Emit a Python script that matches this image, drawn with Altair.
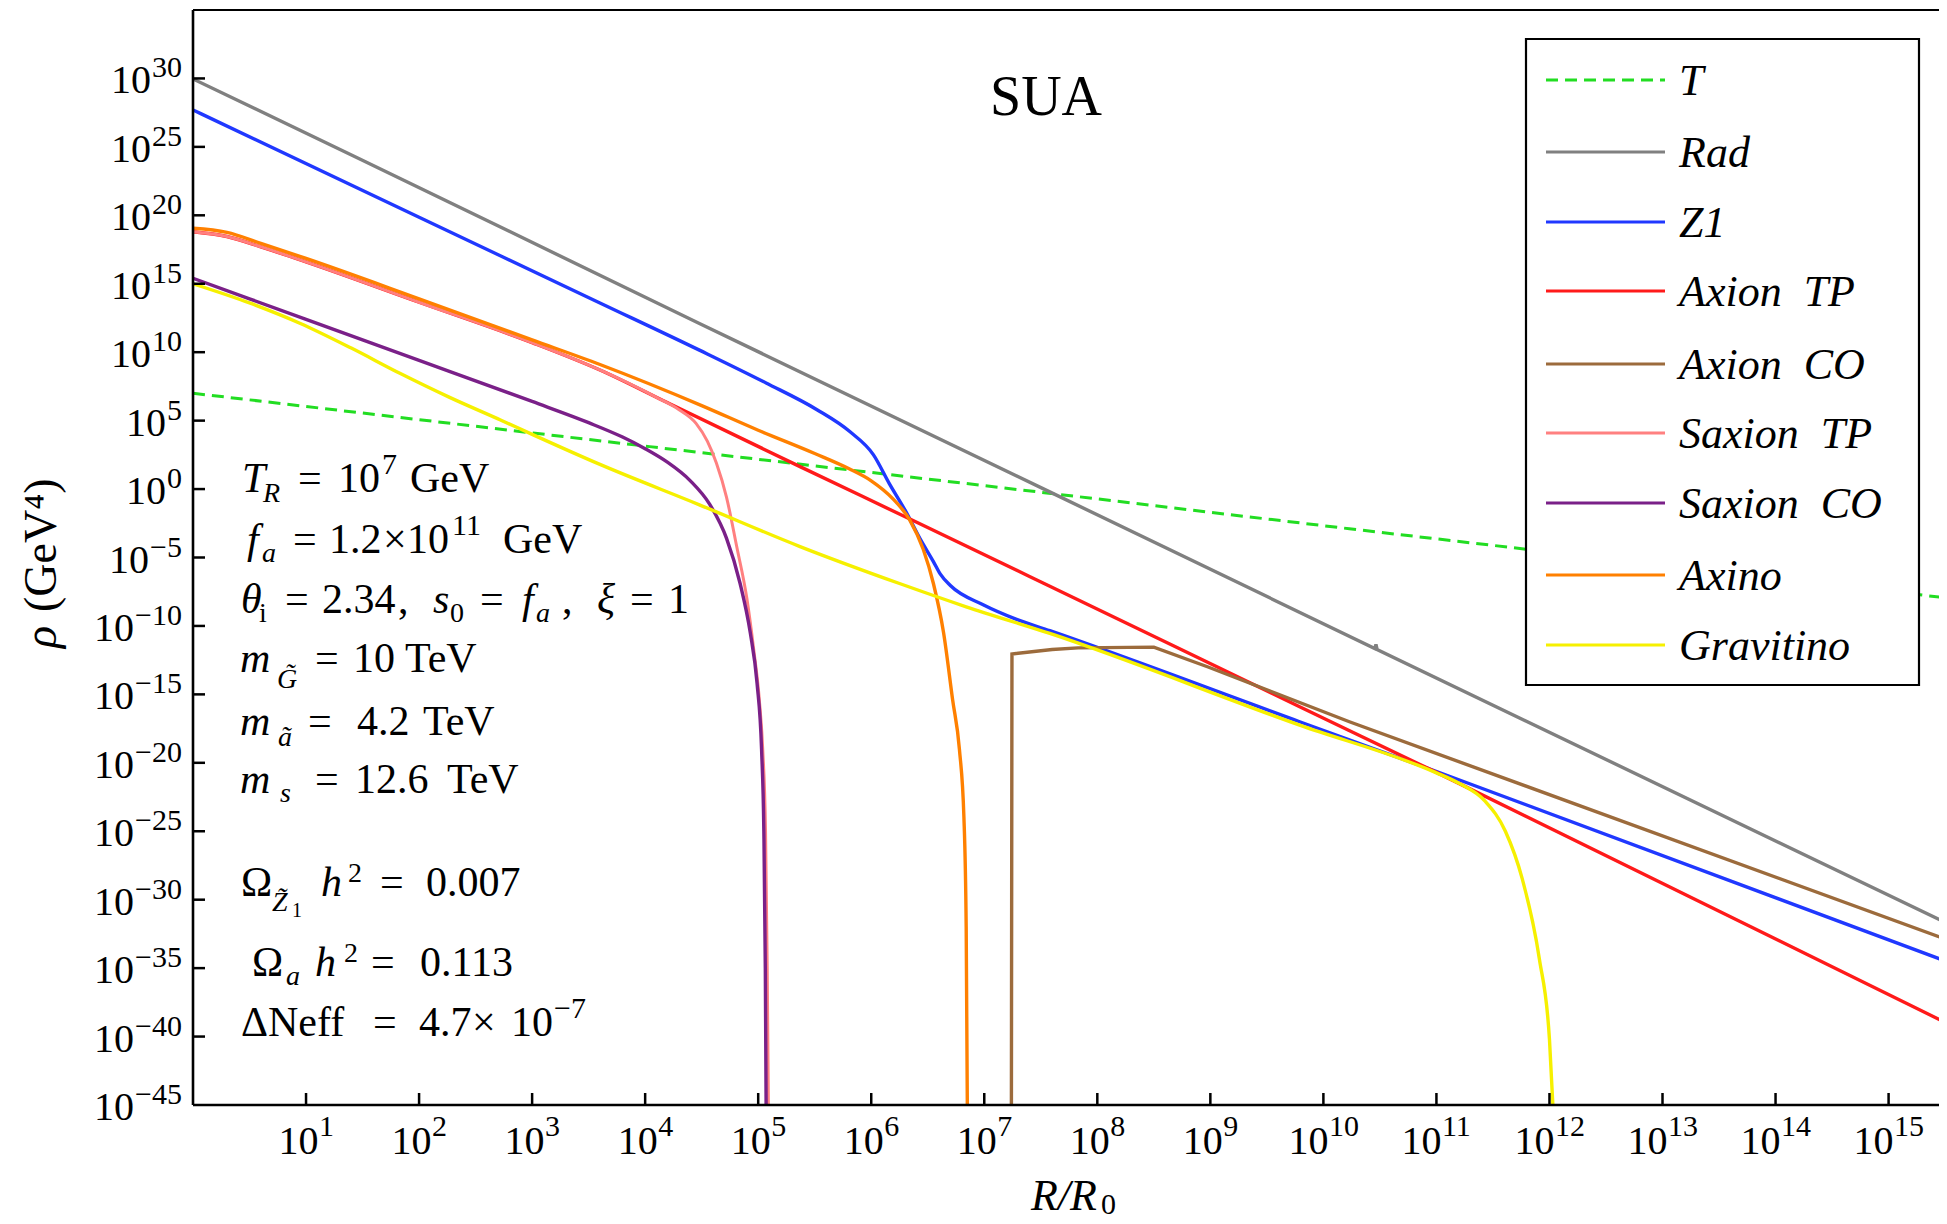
import altair as alt
import pandas as pd

FONT = "Liberation Serif"

# ---------------- data ----------------
# x = log10(R/R0), y = log10(rho / GeV^4)
T_lx = [0.0, 4.04, 7.57, 10.23, 15.51]
T_ly = [7.0, 3.1, -0.3, -2.9, -7.95]

Rad_lx = [0.0, 1.48, 4.48, 7.57, 10.455, 10.465, 10.475, 15.51]
Rad_ly = [29.96, 24.1, 12.1, -0.17, -11.65, -11.35, -11.72, -31.7]

Z1_lx = [0, 2, 3.6, 4.48, 5.07, 5.52, 5.81, 6.02, 6.16, 6.31, 6.43, 6.55,
         6.61, 6.7, 6.99, 7.28, 7.58, 9.79, 10.99, 15.51]
Z1_ly = [27.7, 19.86, 13.6, 10.15, 7.75, 5.8, 4.2, 2.5, 0.4, -1.7, -3.6, -5.3,
         -6.2, -7.05, -8.45, -9.5, -10.35, -17.0, -20.6, -34.5]

AxTP_lx = [0, 0.3, 0.6, 1, 2, 3, 3.6, 4.2, 5.37, 6.37, 7.58, 9.79, 11.0, 15.51]
AxTP_ly = [18.8, 18.45, 17.7, 16.6, 13.65, 10.7, 8.7, 6.3, 1.64, -2.3, -7.1, -15.9, -20.7, -39.0]

AxCO_lx = [7.24, 7.245, 7.6, 7.83, 8.5, 8.98, 10.23, 15.51]
AxCO_ly = [-45, -12.05, -11.72, -11.6, -11.55, -13.0, -17.0, -32.9]

SxTP_lx = [0, 0.3, 0.6, 1, 2, 3, 3.6, 4.1, 4.3, 4.45, 4.55, 4.63, 4.72, 4.81, 4.9, 4.96,
           5.01, 5.04, 5.065, 5.08, 5.09]
SxTP_ly = [18.8, 18.45, 17.7, 16.6, 13.65, 10.7, 8.7, 6.7, 5.8, 4.8, 3.5, 1.9, -0.6, -4.2,
           -8.0, -11.7, -15.4, -19.0, -25, -35, -45]

SxCO_lx = [0, 1, 2, 3, 3.5, 3.8, 4.0, 4.19, 4.4, 4.57, 4.72, 4.84, 4.93, 4.99, 5.03,
           5.05, 5.063, 5.07]
SxCO_ly = [15.4, 12.4, 9.4, 6.4, 4.85, 3.8, 2.95, 2.0, 0.6, -1.1, -3.6, -6.9, -10.5,
           -14.2, -19.05, -25, -35, -45]

Axino_lx = [0, 0.3, 0.6, 1, 2, 3, 3.6, 4.5, 5.0, 5.5, 5.8, 6.0, 6.19, 6.34, 6.46, 6.55,
            6.64, 6.72, 6.78, 6.82, 6.84, 6.85]
Axino_ly = [19.05, 18.75, 17.95, 16.85, 13.9, 10.9, 9.1, 6.1, 4.3, 2.6, 1.5, 0.6, -0.7,
            -2.25, -4.4, -6.9, -10.5, -15.4, -19.0, -24, -32, -45]

Grav_lx = [0, 0.5, 0.95, 1.4, 1.83, 2.27, 2.72, 3.01, 3.6, 4.48, 5.37, 6.25, 6.84, 7.58,
           9.79, 10.99, 11.2, 11.43, 11.61, 11.76, 11.91, 12.0, 12.03]
Grav_ly = [15.0, 13.6, 12.1, 10.3, 8.46, 6.7, 5.05, 3.96, 1.8, -1.15, -4.2, -6.9, -8.6,
           -10.55, -17.25, -20.7, -21.5, -22.8, -25.0, -28.5, -34.3, -40.2, -45]

series_names = ["T", "Rad", "Z1", "Axion \u00a0TP", "Axion \u00a0CO", "Saxion \u00a0TP",
                "Saxion \u00a0CO", "Axino", "Gravitino"]
series_colors = ["#22dd22", "#808080", "#2038ff", "#ff1a1a", "#9c6b3c", "#ff8080",
                 "#7a2088", "#ff8000", "#f6f000"]

x_tick_exp = list(range(1, 16))
y_tick_exp = list(range(-45, 31, 5))

# ---------------- layout ----------------
W, H = 1746, 1095
XMAX_EXP = 15.446
OX, OY = 193, 10  # plot origin in page pixels
LBL, EXPS = 40, 30  # tick label font size, exponent font size
LW = 3.4


def expstr(e):
    return str(e).replace("-", "\u2212")


def expw(e):
    return sum(0.564 if c == "\u2212" else 0.5 for c in expstr(e)) * EXPS


xscale = alt.Scale(type="log", domain=[1.0, 10 ** XMAX_EXP], nice=False)
yscale = alt.Scale(type="log", domain=[1e-45, 1e35], nice=False)


def curve(lx, ly, color, width=LW, dash=None, interp="monotone"):
    df = pd.DataFrame({"R": [10.0 ** v for v in lx], "rho": [10.0 ** v for v in ly],
                       "k": list(range(len(lx)))})
    kw = dict(color=color, strokeWidth=width, clip=True, interpolate=interp)
    if dash:
        kw["strokeDash"] = dash
    return alt.Chart(df).mark_line(**kw).encode(
        x=alt.X("R:Q", scale=xscale, axis=None),
        y=alt.Y("rho:Q", scale=yscale, axis=None),
        order="k:Q")


layers = [
    curve(T_lx, T_ly, series_colors[0], 3.0, dash=[12, 7], interp="linear"),
    curve(Rad_lx, Rad_ly, series_colors[1], interp="linear"),
    curve(Z1_lx, Z1_ly, series_colors[2]),
    curve(AxTP_lx, AxTP_ly, series_colors[3]),
    curve(AxCO_lx, AxCO_ly, series_colors[4], interp="linear"),
    curve(SxTP_lx, SxTP_ly, series_colors[5], 3.0),
    curve(SxCO_lx, SxCO_ly, series_colors[6]),
    curve(Axino_lx, Axino_ly, series_colors[7]),
    curve(Grav_lx, Grav_ly, series_colors[8]),
]

one = pd.DataFrame({"a": [0]})

# frame: left axis, bottom axis, top line
layers.append(alt.Chart(one).mark_rule(color="black", strokeWidth=2.6).encode(
    x=alt.value(0), y=alt.value(0), y2=alt.value(H)))
layers.append(alt.Chart(one).mark_rule(color="black", strokeWidth=2.6).encode(
    x=alt.value(0), x2=alt.value(W), y=alt.value(H)))
layers.append(alt.Chart(one).mark_rule(color="black", strokeWidth=2.2).encode(
    x=alt.value(0), x2=alt.value(W), y=alt.value(0)))

# inward ticks
yt = pd.DataFrame({"v": [10.0 ** e for e in y_tick_exp if e > -45]})
xt = pd.DataFrame({"v": [10.0 ** e for e in x_tick_exp]})
layers.append(alt.Chart(yt).mark_rule(color="black", strokeWidth=2.5).encode(
    y=alt.Y("v:Q", scale=yscale, axis=None), x=alt.value(0), x2=alt.value(12)))
layers.append(alt.Chart(xt).mark_rule(color="black", strokeWidth=2.5).encode(
    x=alt.X("v:Q", scale=xscale, axis=None), y=alt.value(H), y2=alt.value(H - 12)))

# y tick labels: "10" + raised exponent, right-aligned against the axis
ylab = pd.DataFrame({"v": [10.0 ** e for e in y_tick_exp],
                     "e": [expstr(e) for e in y_tick_exp],
                     "ex": [-11.0] * len(y_tick_exp),
                     "bx": [-12.0 - expw(e) for e in y_tick_exp]})
layers.append(alt.Chart(ylab).mark_text(align="right", baseline="alphabetic", font=FONT,
                                        fontSize=LBL, dy=15, color="black").encode(
    y=alt.Y("v:Q", scale=yscale, axis=None), x=alt.X("bx:Q", scale=None, axis=None),
    text=alt.value("10")))
layers.append(alt.Chart(ylab).mark_text(align="right", baseline="alphabetic", font=FONT,
                                        fontSize=EXPS, dy=-1, color="black").encode(
    y=alt.Y("v:Q", scale=yscale, axis=None), x=alt.X("ex:Q", scale=None, axis=None),
    text="e:N"))

# x tick labels, centred on the ticks (1-digit and 2-digit exponents)
for digits in (1, 2):
    exps = [e for e in x_tick_exp if len(str(e)) == digits]
    xl = pd.DataFrame({"v": [10.0 ** e for e in exps], "e": [str(e) for e in exps]})
    tot = LBL + digits * 0.5 * EXPS
    right10 = tot / 2 - digits * 0.5 * EXPS
    layers.append(alt.Chart(xl).mark_text(align="right", baseline="alphabetic", font=FONT,
                                          fontSize=LBL, dx=right10, color="black").encode(
        x=alt.X("v:Q", scale=xscale, axis=None), y=alt.value(H + 49), text=alt.value("10")))
    layers.append(alt.Chart(xl).mark_text(align="left", baseline="alphabetic", font=FONT,
                                          fontSize=EXPS, dx=right10 + 0.5, color="black").encode(
        x=alt.X("v:Q", scale=xscale, axis=None), y=alt.value(H + 31), text="e:N"))

# legend box
layers.append(alt.Chart(one).mark_rect(fill="white", stroke="black", strokeWidth=2.2).encode(
    x=alt.value(1526 - OX), x2=alt.value(1919 - OX), y=alt.value(39 - OY), y2=alt.value(685 - OY)))
leg_y = [80, 152, 222, 291, 364, 433, 503, 575, 645]
leg_df = pd.DataFrame({"ly": [v - OY for v in leg_y], "c": series_colors, "t": series_names,
                       "tx": [1679 - OX] * 9, "ty": [v - OY + 15 for v in leg_y], "fs": [44] * 9})
layers.append(alt.Chart(leg_df.iloc[:1]).mark_rule(strokeWidth=2.8, strokeDash=[12, 7]).encode(
    x=alt.value(1546 - OX), x2=alt.value(1665 - OX), y=alt.Y("ly:Q", scale=None, axis=None),
    color=alt.Color("c:N", scale=None, legend=None)))
layers.append(alt.Chart(leg_df.iloc[1:]).mark_rule(strokeWidth=2.8).encode(
    x=alt.value(1546 - OX), x2=alt.value(1665 - OX), y=alt.Y("ly:Q", scale=None, axis=None),
    color=alt.Color("c:N", scale=None, legend=None)))
layers.append(alt.Chart(leg_df).mark_text(align="left", baseline="alphabetic", font=FONT,
                                          fontStyle="italic", color="black").encode(
    x=alt.X("tx:Q", scale=None, axis=None), y=alt.Y("ty:Q", scale=None, axis=None),
    size=alt.Size("fs:Q", scale=None, legend=None), text="t:N"))

# annotation text pieces: (text, style, page x, page baseline y, size)
S, s = 42, 28
pieces = [
    ("T", "i", 242, 492, S), ("R", "i", 263, 502, s), ("=", "r", 298, 492, S), ("10", "r", 338, 492, S),
    ("7", "r", 382, 474, 30), ("GeV", "r", 410, 492, S),
    ("f", "i", 247, 553, S), ("a", "i", 262, 562, s), ("=", "r", 293, 553, S), ("1.2", "r", 329, 553, S),
    ("×", "r", 383, 553, S), ("10", "r", 407, 553, S), ("11", "r", 452, 535, 30), ("GeV", "r", 503, 553, S),
    ("θ", "i", 241, 613, S), ("i", "r", 259, 622, s), ("=", "r", 285, 613, S), ("2.34", "r", 322, 613, S),
    (",", "r", 398, 613, S), ("s", "i", 433, 613, S), ("0", "r", 450, 622, s), ("=", "r", 480, 613, S),
    ("f", "i", 522, 613, S), ("a", "i", 536, 622, s), (",", "r", 562, 613, S), ("ξ", "i", 597, 613, S),
    ("=", "r", 630, 613, S), ("1", "r", 668, 613, S),
    ("m", "i", 240, 672, S), ("G\u0303", "i", 277, 688, s), ("=", "r", 315, 672, S), ("10", "r", 353, 672, S),
    ("TeV", "r", 405, 672, S),
    ("m", "i", 240, 735, S), ("ã", "i", 278, 746, s), ("=", "r", 308, 735, S), ("4.2", "r", 357, 735, S),
    ("TeV", "r", 423, 735, S),
    ("m", "i", 240, 793, S), ("s", "i", 280, 802, s), ("=", "r", 315, 793, S), ("12.6", "r", 355, 793, S),
    ("TeV", "r", 447, 793, S),
    ("Ω", "r", 241, 896, S), ("Z\u0303", "i", 272, 911, s), ("1", "r", 292, 917, 20), ("h", "i", 321, 896, S),
    ("2", "r", 348, 882, s), ("=", "r", 380, 896, S), ("0.007", "r", 426, 896, S),
    ("Ω", "r", 252, 976, S), ("a", "i", 286, 985, s), ("h", "i", 315, 976, S), ("2", "r", 344, 962, s),
    ("=", "r", 371, 976, S), ("0.113", "r", 420, 976, S),
    ("ΔNeff", "r", 241, 1036, S), ("=", "r", 373, 1036, S), ("4.7", "r", 419, 1036, S),
    ("×", "r", 472, 1036, S), ("10", "r", 511, 1036, S), ("\u22127", "r", 554, 1018, 30),
    # x-axis title
    ("R/R", "i", 1031, 1210, 44), ("0", "r", 1101, 1214, 30),
]
pdf = pd.DataFrame(pieces, columns=["t", "st", "fx", "fy", "fs"])
pdf["px"] = pdf["fx"] - OX
pdf["py"] = pdf["fy"] - OY
for st, style in (("i", "italic"), ("r", "normal")):
    sub = pdf[pdf["st"] == st]
    layers.append(alt.Chart(sub).mark_text(align="left", baseline="alphabetic", font=FONT,
                                           fontStyle=style, color="black").encode(
        x=alt.X("px:Q", scale=None, axis=None), y=alt.Y("py:Q", scale=None, axis=None),
        size=alt.Size("fs:Q", scale=None, legend=None), text="t:N"))

# title
layers.append(alt.Chart(one).mark_text(text="SUA", font=FONT, fontSize=56, align="center",
                                       baseline="alphabetic", color="black").encode(
    x=alt.value(1046 - OX), y=alt.value(115 - OY)))
# y-axis title (rotated): italic rho, then (GeV^4)
layers.append(alt.Chart(one).mark_text(text="ρ", font=FONT, fontSize=46, fontStyle="italic",
                                       align="left", baseline="middle", angle=270, color="black").encode(
    x=alt.value(42 - OX), y=alt.value(648 - OY)))
layers.append(alt.Chart(one).mark_text(text="(GeV⁴)", font=FONT, fontSize=46, align="left",
                                       baseline="middle", angle=270, color="black").encode(
    x=alt.value(42 - OX), y=alt.value(612 - OY)))

chart = alt.layer(*layers).properties(
    width=W, height=H,
    padding={"left": 185, "top": 2, "right": 0, "bottom": 114},
    autosize=alt.AutoSizeParams(type="none"),
    background="white",
).configure_view(stroke=None)

chart.save("out.html", embed_options={"renderer": "svg", "actions": False})
